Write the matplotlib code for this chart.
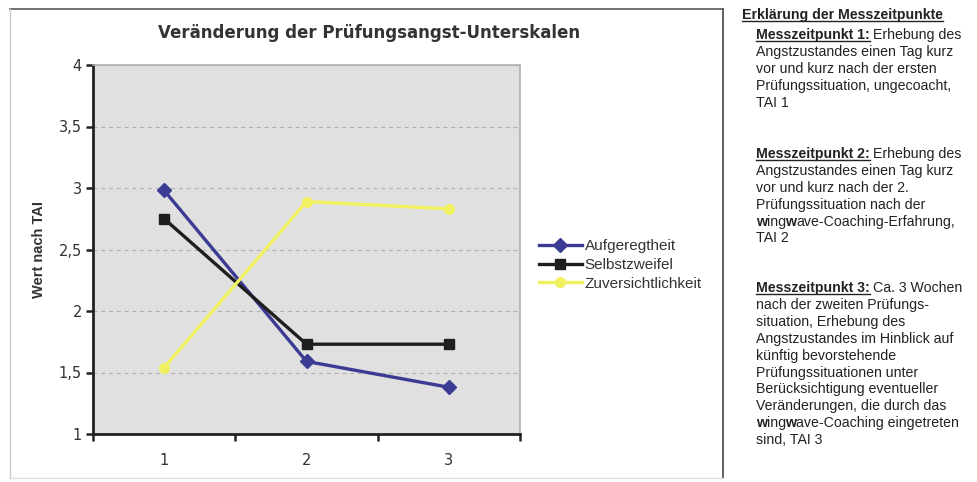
import matplotlib
matplotlib.use("Agg")
import matplotlib.pyplot as plt
from matplotlib.lines import Line2D

# ==============================
# DATA
# ==============================
zeitpunkte = [1, 2, 3]
zeitpunkt_labels = ["1", "2", "3"]
aufgeregtheit = [2.98, 1.59, 1.38]
selbstzweifel = [2.75, 1.73, 1.73]
zuversicht = [1.54, 2.89, 2.83]
y_ticks = [1, 1.5, 2, 2.5, 3, 3.5, 4]
y_ticklabels = ["1", "1,5", "2", "2,5", "3", "3,5", "4"]

title = "Veränderung der Prüfungsangst-Unterskalen"
ylabel = "Wert nach TAI"

erkl_titel = "Erklärung der Messzeitpunkte"
# (text, bold, underline) segments per line
block1 = [
    [("Messzeitpunkt 1:", True, True), (" Erhebung des", False, False)],
    [("Angstzustandes einen Tag kurz", False, False)],
    [("vor und kurz nach der ersten", False, False)],
    [("Prüfungssituation, ungecoacht,", False, False)],
    [("TAI 1", False, False)],
]
block2 = [
    [("Messzeitpunkt 2:", True, True), (" Erhebung des", False, False)],
    [("Angstzustandes einen Tag kurz", False, False)],
    [("vor und kurz nach der 2.", False, False)],
    [("Prüfungssituation nach der", False, False)],
    [("w", True, False), ("ing", False, False), ("w", True, False),
     ("ave-Coaching-Erfahrung,", False, False)],
    [("TAI 2", False, False)],
]
block3 = [
    [("Messzeitpunkt 3:", True, True), (" Ca. 3 Wochen", False, False)],
    [("nach der zweiten Prüfungs-", False, False)],
    [("situation, Erhebung des", False, False)],
    [("Angstzustandes im Hinblick auf", False, False)],
    [("künftig bevorstehende", False, False)],
    [("Prüfungssituationen unter", False, False)],
    [("Berücksichtigung eventueller", False, False)],
    [("Veränderungen, die durch das", False, False)],
    [("w", True, False), ("ing", False, False), ("w", True, False),
     ("ave-Coaching eingetreten", False, False)],
    [("sind, TAI 3", False, False)],
]

# ==============================
# FIGURE
# ==============================
W, H = 977, 482
fig = plt.figure(figsize=(W / 100, H / 100), dpi=100)
fig.patch.set_facecolor("white")


def fx(px):
    return px / W


def fy(py):
    return 1 - py / H


# outer chart frame
fig.add_artist(Line2D([fx(10), fx(723)], [fy(9), fy(9)], color="#666666", lw=1.3))
fig.add_artist(Line2D([fx(723), fx(723)], [fy(9), fy(478)], color="#555555", lw=1.3))
fig.add_artist(Line2D([fx(10), fx(10)], [fy(9), fy(478)], color="#cccccc", lw=1.0))
fig.add_artist(Line2D([fx(10), fx(723)], [fy(478), fy(478)], color="#dddddd", lw=1.0))

ax = fig.add_axes([fx(93), fy(434), fx(520) - fx(93), fy(65) - fy(434)])
ax.set_facecolor("#e0e0e0")

ax.plot(zeitpunkte, aufgeregtheit, color="#3b3b94", lw=2.4, marker="D", ms=7,
        label="Aufgeregtheit", zorder=3)
ax.plot(zeitpunkte, selbstzweifel, color="#1e1e1e", lw=2.4, marker="s", ms=7,
        label="Selbstzweifel", zorder=3)
ax.plot(zeitpunkte, zuversicht, color="#f0f060", lw=2.4, marker="o", ms=7,
        label="Zuversichtlichkeit", zorder=3)

ax.set_xlim(0.5, 3.5)
ax.set_ylim(1, 4)
ax.set_yticks(y_ticks)
ax.set_yticklabels(y_ticklabels)
ax.set_xticks([0.5, 1.5, 2.5, 3.5])
ax.set_xticklabels([])
ax.set_xticks(zeitpunkte, minor=True)
ax.set_xticklabels(zeitpunkt_labels, minor=True)
ax.tick_params(axis="x", which="major", direction="out", length=5, width=1.8, color="#222222")
ax.tick_params(axis="x", which="minor", length=0, pad=14, labelsize=10.5, labelcolor="#333333")
ax.tick_params(axis="y", direction="out", length=5, width=1.8, color="#222222",
               pad=3, labelsize=10.5, labelcolor="#333333")

for lab in ax.get_xticklabels(minor=True) + ax.get_yticklabels():
    lab.set_family("DejaVu Sans")

ax.grid(axis="y", color="#b0b0b0", lw=0.8, linestyle=(0, (3.5, 3.5)))
ax.set_axisbelow(True)

for s in ["left", "bottom"]:
    ax.spines[s].set_color("#222222")
    ax.spines[s].set_linewidth(2.0)
for s in ["top", "right"]:
    ax.spines[s].set_color("#b0b0b0")
    ax.spines[s].set_linewidth(1.2)

fig.text(fx(369), fy(33), title, ha="center", va="center", fontsize=12,
         fontweight="bold", color="#333333", family="DejaVu Sans")
fig.text(fx(39), fy(250), ylabel, ha="center", va="center", rotation=90,
         fontsize=10.5, fontweight="bold", color="#333333", family="Liberation Sans")

leg = fig.legend(loc="center left", bbox_to_anchor=(fx(539), fy(265)), frameon=False,
                 prop={"family": "Liberation Sans", "size": 11}, handlelength=2.8,
                 handletextpad=0.2, labelspacing=0.3, borderpad=0, borderaxespad=0)
for t in leg.get_texts():
    t.set_color("#333333")

# ==============================
# EXPLANATION PANEL
# ==============================
renderer = fig.canvas.get_renderer()
body_font = "Liberation Sans"
body_size = 10.2
txt_color = "#222222"


def text_width(s, bold):
    t = fig.text(0, 0, s, fontsize=body_size, family=body_font,
                 fontweight="bold" if bold else "normal")
    w = t.get_window_extent(renderer).width
    t.remove()
    return w


space_w = text_width("a a", False) - text_width("aa", False)


def rich_line(x, y, parts):
    for txt, bold, under in parts:
        lead = len(txt) - len(txt.lstrip(" "))
        x += lead * space_w
        core = txt.strip(" ")
        t = fig.text(fx(x), fy(y), core, fontsize=body_size, family=body_font,
                     fontweight="bold" if bold else "normal", color=txt_color,
                     ha="left", va="baseline")
        bb = t.get_window_extent(renderer)
        if under:
            fig.add_artist(Line2D([fx(bb.x0), fx(bb.x1)], [fy(y + 2), fy(y + 2)],
                                  color=txt_color, lw=1.0))
        x = bb.x1 - 0.3


rich_line(742, 19, [(erkl_titel, True, True)])

line_h = 16.9
for start, block in [(39, block1), (158, block2), (292, block3)]:
    for i, parts in enumerate(block):
        rich_line(756, start + i * line_h, parts)

plt.savefig("out.png", dpi=100)
